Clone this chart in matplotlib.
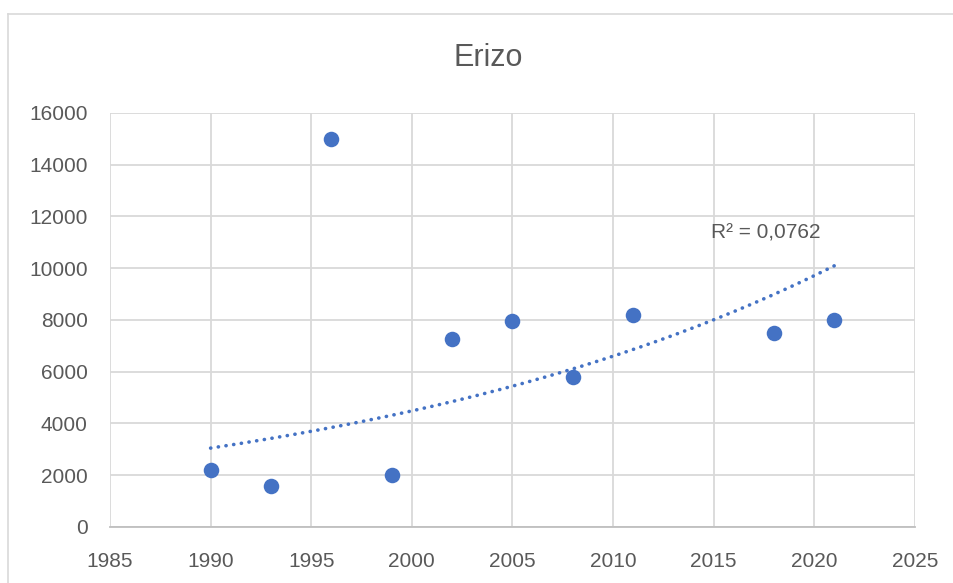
import numpy as np
import matplotlib.pyplot as plt
from matplotlib.lines import Line2D

# data
years = [1990, 1993, 1996, 1999, 2002, 2005, 2008, 2011, 2018, 2021]
counts = [2200, 1600, 15000, 2000, 7250, 7950, 5800, 8200, 7500, 8000]
title = "Erizo"
r2_label = "R\u00b2 = 0,0762"

blue = "#4472C4"
grey_text = "#595959"
grid_col = "#D9D9D9"

plt.rcParams['font.family'] = ['Liberation Sans', 'DejaVu Sans']

fig = plt.figure(figsize=(9.54, 5.83), dpi=100)
ax = fig.add_axes([0.1153, 0.0961, 0.8437, 0.7101])

ax.scatter(years, counts, s=125, color=blue, zorder=3, linewidths=0)

# exponential trendline, like Excel's
x = np.array(years, dtype=float)
y = np.array(counts, dtype=float)
b, a = np.polyfit(x, np.log(y), 1)
xs = np.linspace(x.min(), x.max(), 200)
ys = np.exp(a + b * xs)
ax.plot(xs, ys, color=blue, lw=2.6, linestyle=(0, (0.05, 2.1)),
        dash_capstyle='round', zorder=2)

ax.text(2014.86, 11360, r2_label, ha='left', va='center',
        fontsize=15, color=grey_text)

ax.set_xlim(1985, 2025)
ax.set_ylim(0, 16000)
ax.set_xticks(range(1985, 2026, 5))
ax.set_yticks(range(0, 16001, 2000))
ax.grid(True, color=grid_col, lw=1.3)
ax.set_axisbelow(True)
for side in ['left', 'top', 'right']:
    ax.spines[side].set_visible(False)
ax.spines['bottom'].set_color("#BFBFBF")
ax.spines['bottom'].set_linewidth(1.3)
ax.tick_params(length=0, labelsize=15, colors=grey_text)
ax.tick_params(axis='x', pad=18)
ax.tick_params(axis='y', pad=16)

fig.text(0.512, 1 - 58 / 583, title, ha='center', va='center',
         fontsize=22, color=grey_text)

# outer chart border
fig.add_artist(Line2D([8.5 / 954, 8.5 / 954], [0, 1 - 13.5 / 583],
                      transform=fig.transFigure, color=grid_col, lw=1.2))
fig.add_artist(Line2D([8.5 / 954, 1], [1 - 13.5 / 583, 1 - 13.5 / 583],
                      transform=fig.transFigure, color=grid_col, lw=1.2))

fig.savefig("out.png", dpi=100)
